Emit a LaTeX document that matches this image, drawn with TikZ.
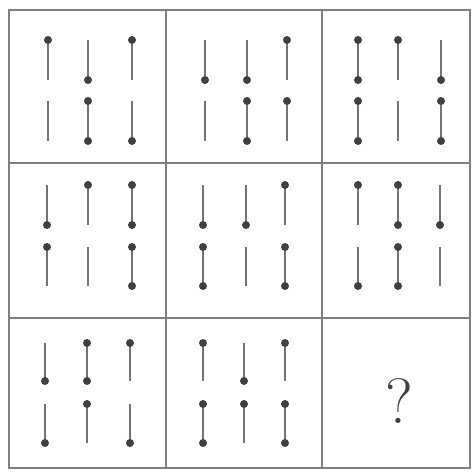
\documentclass[tikz,border=0pt]{standalone}
\begin{document}
\begin{tikzpicture}[x=1pt,y=-1pt,
  gridline/.style={draw=black!50,line width=1.6pt},
  stickline/.style={draw=black!55,line width=1.5pt},
  dotc/.style={fill=black!75}]
\useasboundingbox[fill=white] (0,0) rectangle (473,472);
\newcommand\pinpair[9]{%
  \draw[stickline] (#1,#2) -- (#1,#3);
  \draw[stickline] (#1,#4) -- (#1,#5);
  \ifnum#6=1 \fill[dotc] (#1,#2) circle (4pt);\fi
  \ifnum#7=1 \fill[dotc] (#1,#3) circle (4pt);\fi
  \ifnum#8=1 \fill[dotc] (#1,#4) circle (4pt);\fi
  \ifnum#9=1 \fill[dotc] (#1,#5) circle (4pt);\fi}
% grid
\draw[gridline] (9,10) rectangle (470,468);
\draw[gridline] (166,10) -- (166,468);
\draw[gridline] (322,10) -- (322,468);
\draw[gridline] (9,163) -- (470,163);
\draw[gridline] (9,318) -- (470,318);
% row 1
\pinpair{48}{40}{80}{101}{141}{1}{0}{0}{0}
\pinpair{88}{40}{80}{101}{141}{0}{1}{1}{1}
\pinpair{132}{40}{80}{101}{141}{1}{0}{0}{1}
\pinpair{205}{40}{80}{101}{141}{0}{1}{0}{0}
\pinpair{247}{40}{80}{101}{141}{0}{1}{1}{1}
\pinpair{287}{40}{80}{101}{141}{1}{0}{1}{0}
\pinpair{358}{40}{80}{101}{141}{1}{1}{1}{1}
\pinpair{398}{40}{80}{101}{141}{1}{0}{0}{0}
\pinpair{441}{40}{80}{101}{141}{0}{1}{1}{1}
% row 2
\pinpair{47}{185}{225}{247}{286}{0}{1}{1}{0}
\pinpair{88}{185}{225}{247}{286}{1}{0}{0}{0}
\pinpair{132}{185}{225}{247}{286}{1}{1}{1}{1}
\pinpair{203}{185}{225}{247}{286}{0}{1}{1}{1}
\pinpair{246}{185}{225}{247}{286}{0}{1}{0}{0}
\pinpair{285}{185}{225}{247}{286}{1}{0}{1}{1}
\pinpair{358}{185}{225}{247}{286}{1}{0}{0}{1}
\pinpair{398}{185}{225}{247}{286}{1}{1}{1}{1}
\pinpair{440}{185}{225}{247}{286}{0}{1}{0}{0}
% row 3
\pinpair{45}{343}{381}{404}{443}{0}{1}{0}{1}
\pinpair{87}{343}{381}{404}{443}{1}{1}{1}{0}
\pinpair{130}{343}{381}{404}{443}{1}{0}{0}{1}
\pinpair{203}{343}{381}{404}{443}{1}{0}{1}{1}
\pinpair{244}{343}{381}{404}{443}{0}{1}{1}{0}
\pinpair{285}{343}{381}{404}{443}{1}{0}{1}{1}
\node[text=black!75,font=\fontsize{64}{64}\selectfont,inner sep=0pt] (q) at (399,401) {?};
\end{tikzpicture}
\end{document}
